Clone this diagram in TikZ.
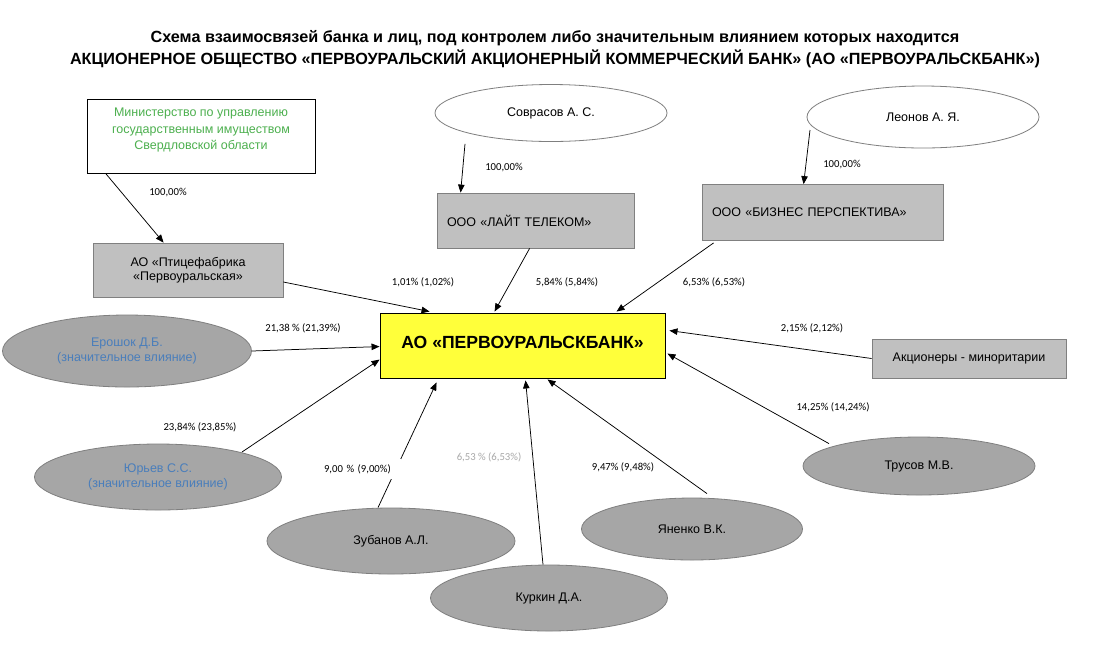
\documentclass[tikz,border=0pt]{standalone}
\usepackage{fontspec}
\setmainfont{Liberation Sans}
\newfontfamily\pctfont{Carlito}
\usetikzlibrary{arrows.meta,shapes.geometric}
\definecolor{boxfill}{HTML}{C0C0C0}
\definecolor{boxline}{HTML}{808080}
\definecolor{ellfill}{HTML}{A6A6A6}
\definecolor{ellline}{HTML}{7F7F7F}
\definecolor{mingreen}{HTML}{4DB04F}
\definecolor{infblue}{HTML}{4A7EBB}
\definecolor{bankyellow}{HTML}{FFFF3A}
\definecolor{lightlbl}{HTML}{A8A8A8}
\begin{document}
\begin{tikzpicture}[x=1pt,y=-1pt,
  every node/.style={font=\fontsize{12.5}{15}\selectfont, inner sep=0pt},
  graybox/.style={rectangle, draw=boxline, fill=boxfill, line width=0.8pt, align=center},
  whitebox/.style={rectangle, draw=black, fill=white, line width=0.8pt},
  grayell/.style={ellipse, draw=ellline, fill=ellfill, line width=0.8pt, align=center},
  whiteell/.style={ellipse, draw=ellline, fill=white, line width=0.8pt, align=center},
  pct/.style={font=\pctfont\fontsize{10.7}{12}\selectfont},
  arr/.style={draw=black, line width=0.75pt, -{Triangle[length=8pt,width=6.5pt]}},
  bluetext/.style={text=infblue}
]
\useasboundingbox[fill=white] (0,0) rectangle (1099,649);

% title
\node[align=center, font=\fontsize{16.2}{22}\selectfont\bfseries] (title) at (555,49)
 {Схема взаимосвязей банка и лиц, под контролем либо значительным влиянием которых находится\\
  АКЦИОНЕРНОЕ ОБЩЕСТВО «ПЕРВОУРАЛЬСКИЙ АКЦИОНЕРНЫЙ КОММЕРЧЕСКИЙ БАНК» (АО «ПЕРВОУРАЛЬСКБАНК»)};

% bank
\node[rectangle, draw=black, fill=bankyellow, line width=0.9pt, minimum width=285pt, minimum height=65pt,
      font=\fontsize{17.6}{20}\selectfont\bfseries] (bank) at (522.5,345.5) {\raisebox{7pt}{АО «ПЕРВОУРАЛЬСКБАНК»}};

% top left
\node[whitebox, minimum width=228pt, minimum height=74pt] (ministry) at (201,136) {};
\node[align=center, text=mingreen, font=\fontsize{12.5}{16.5}\selectfont] (ministrytext) at (201,130)
 {Министерство по управлению\\государственным имуществом\\Свердловской области};
\node[graybox, minimum width=190pt, minimum height=54pt] (ptitsa) at (188,270)
 {\raisebox{4pt}{\begin{tabular}{@{}c@{}}АО «Птицефабрика\\[-1pt]«Первоуральская»\end{tabular}}};

% top middle
\node[whiteell, minimum width=232pt, minimum height=57pt] (sovrasov) at (551,113) {Соврасов А. С.};
\node[graybox, minimum height=55pt, text width=177pt, inner xsep=10pt, align=left] (lite) at (535.5,220.5)
 {ООО «ЛАЙТ ТЕЛЕКОМ»};

% top right
\node[whiteell, minimum width=232pt, minimum height=62pt] (leonov) at (923,117) {Леонов А. Я.};
\node[graybox, minimum height=56pt, text width=221pt, inner xsep=10pt, align=left] (biz) at (822.5,212.5)
 {ООО «БИЗНЕС ПЕРСПЕКТИВА»};

% left ellipses
\node[grayell, minimum width=249pt, minimum height=72pt, text=infblue] (erosh) at (127,351)
 {Ерошок Д.Б.\\(значительное влияние)};
\node[grayell, minimum width=247pt, minimum height=66pt, text=infblue] (yurev) at (158,477)
 {Юрьев С.С.\\(значительное влияние)};

% bottom ellipses
\node[grayell, minimum width=248pt, minimum height=66pt] (zub) at (391,541) {Зубанов А.Л.};
\node[grayell, minimum width=237pt, minimum height=66pt] (kurkin) at (549,598) {Куркин Д.А.};
\node[grayell, minimum width=221pt, minimum height=62pt] (yan) at (692,529) {Яненко В.К.};
\node[grayell, minimum width=232pt, minimum height=58pt] (trusov) at (919,466) {Трусов М.В.};

% minority
\node[graybox, minimum width=194pt, minimum height=39pt] (minor) at (969,358.5) {Акционеры - миноритарии};

% connectors
\draw[arr] ([xshift=19pt]ministry.south west) -- ([xshift=71pt]ptitsa.north west);
\draw[arr] ([xshift=-86pt,yshift=-2pt]sovrasov.south) -- ([xshift=24pt]lite.north west);
\draw[arr] ([xshift=-113pt,yshift=-13pt]leonov.center) -- ([xshift=102pt]biz.north west);
\draw[arr] ([yshift=-12pt]ptitsa.east) -- ([xshift=50pt,yshift=1pt]bank.north west);
\draw[arr] ([xshift=93pt]lite.south west) -- ([xshift=115pt,yshift=1pt]bank.north west);
\draw[arr] ([xshift=12pt,yshift=-2pt]biz.south west) -- ([xshift=237pt,yshift=1pt]bank.north west);
\draw[arr] (erosh.east) -- ([yshift=-34pt]bank.north west);
\draw[arr] ([xshift=84pt,yshift=25pt]yurev.center) -- ([yshift=-47pt]bank.north west);
\draw[arr] ([xshift=-13pt]zub.north) -- ([xshift=57pt,yshift=-4pt]bank.south west);
\draw[arr] ([xshift=-6pt]kurkin.north) -- ([xshift=146pt,yshift=-2pt]bank.south west);
\draw[arr] ([xshift=15pt,yshift=4pt]yan.north) -- ([xshift=168pt,yshift=-1pt]bank.south west);
\draw[arr] ([xshift=-90pt,yshift=-7pt]trusov.north) -- ([xshift=2pt,yshift=-41pt]bank.north east);
\draw[arr] (minor.west) -- ([xshift=4pt,yshift=-18pt]bank.north east);

% percentage labels
\node[pct] (l1) at (168,193) {100,00\%};
\node[pct] (l2) at (504,168) {100,00\%};
\node[pct] (l3) at (842,165) {100,00\%};
\node[pct] (l4) at (423,282) {1,01\% (1,02\%)};
\node[pct] (l5) at (567,282) {5,84\% (5,84\%)};
\node[pct] (l6) at (714,282) {6,53\% (6,53\%)};
\node[pct] (l7) at (303,328) {21,38 \% (21,39\%)};
\node[pct] (l8) at (812,328) {2,15\% (2,12\%)};
\node[pct] (l9) at (200,427) {23,84\% (23,85\%)};
\node[pct] (l10) at (833,407) {14,25\% (14,24\%)};
\node[pct, fill=white, minimum height=20pt, text width=74pt, inner xsep=3pt, align=left] (l11) at (361,469) {9,00 \% (9,00\%)};
\node[pct, text=lightlbl] (l12) at (489,457) {6,53 \% (6,53\%)};
\node[pct] (l13) at (623,467) {9,47\% (9,48\%)};
\end{tikzpicture}
\end{document}
